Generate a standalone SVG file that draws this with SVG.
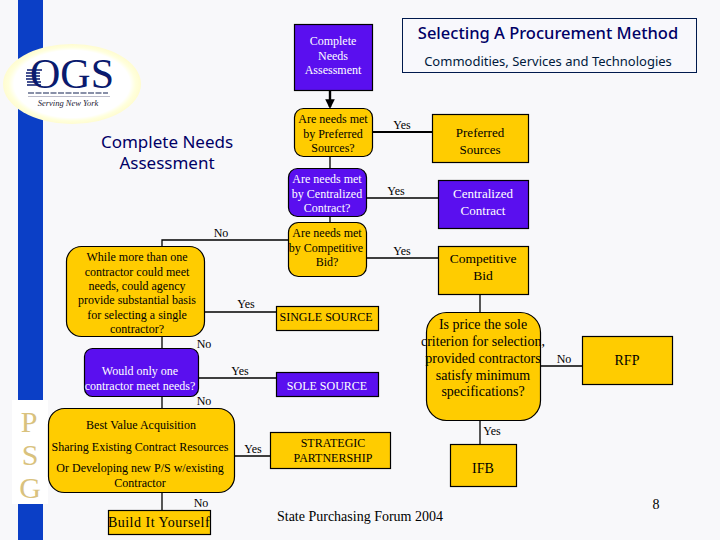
<svg xmlns="http://www.w3.org/2000/svg" width="720" height="540" viewBox="0 0 720 540">
<style>
text{font-family:"Liberation Serif","Times New Roman",serif;font-size:12px;fill:#000;text-anchor:middle}
.y{fill:#FFCC00;stroke:#000;stroke-width:1.2}
.p{fill:#5A0FEF;stroke:#000;stroke-width:1.2}
.w text{fill:#fff}
.c{fill:none;stroke:#000;stroke-width:1.3}
.t{font-family:"Noto Sans","Liberation Sans",Arial,sans-serif;fill:#000066}
.b{font-size:14px}
.g{font-size:30px;fill:#D9C27E}
</style>
<defs><marker id="a" markerWidth="4" markerHeight="4" refX="3.200" refY="2" orient="auto"><path d="M0 0L4 2L0 4Z" fill="#000"/></marker>
<radialGradient id="g"><stop offset=".84" stop-color="#fff"/><stop offset=".92" stop-color="#FFFFDC"/><stop offset="1" stop-color="#FFFCD0"/></radialGradient></defs>
<rect width="720" height="540" fill="#F8F8FA"/>
<rect x="18" y="0" width="25" height="540" fill="#0B3FC6"/>
<g id="logo"><ellipse cx="72" cy="84" rx="69" ry="40" fill="url(#g)"/>
<text x="72" y="88" style="font-size:42px;fill:#0A1A6E">OGS</text>
<path d="M27 70H42M26 73H40M26 76H40M26 79H40M27 82H41M27 85H41" stroke="#0A1A6E" stroke-width="1.500"/>
<path d="M28 93H108" stroke="#8890A8" stroke-width="2" stroke-dasharray="6 1.500"/>
<path d="M28 96.500H110" stroke="#AAB" stroke-width=".8"/>
<text x="68" y="106" style="font-size:8.500px;font-style:italic;fill:#223">Serving New York</text></g>
<g id="psg"><rect x="12" y="400" width="36" height="104" fill="#fff"/>
<text class="g" x="29" y="432">P</text>
<text class="g" x="30" y="465">S</text>
<text class="g" x="30" y="498">G</text></g>
<g id="connectors">
<path class="c" style="stroke-width:2.400" d="M330 90V107" marker-end="url(#a)"/>
<path class="c" d="M330 156V168M330 217V222M480 294V312M480 420V444M540 366H582M162 336V348M162 396V408M162 492V510M234 456H270M198 378H276M204 312H276M162 246V240H288M366 198H438M366 258H438"/>
<path class="c" style="stroke-width:2" d="M372 132H432"/>
</g>
<g id="title"><rect x="402.500" y="18.500" width="294" height="54" fill="#F8F8FC" stroke="#001a4d"/>
<text class="t" x="548" y="39" style="font-size:16.500px;font-weight:500">Selecting A Procurement Method</text>
<text class="t" x="548" y="66" style="font-size:13px;fill:#001a3d">Commodities, Services and Technologies</text></g>
<text class="t" x="167" y="148" style="font-size:17px">Complete Needs</text>
<text class="t" x="167" y="169" style="font-size:17px">Assessment</text>
<g id="n-complete" class="w"><rect class="p" x="294.500" y="24.500" width="78" height="66"/><text x="333" y="45">Complete</text><text x="333" y="60">Needs</text><text x="333" y="74">Assessment</text></g>
<g id="n-preferred-q"><rect class="y" x="294.500" y="108.500" width="78" height="48" rx="9"/><text x="333" y="123">Are needs met</text><text x="333" y="138">by Preferred</text><text x="333" y="152">Sources?</text></g>
<g id="n-preferred"><rect class="y" x="432.500" y="114.500" width="96" height="48"/><text x="480" y="137" style="font-size:13px">Preferred</text><text x="480" y="154" style="font-size:13px">Sources</text></g>
<g id="n-central-q" class="w"><rect class="p" x="288.500" y="168.500" width="78" height="48" rx="9"/><text x="327" y="183">Are needs met</text><text x="327" y="198">by Centralized</text><text x="327" y="212">Contract?</text></g>
<g id="n-central" class="w"><rect class="p" x="438.500" y="180.500" width="90" height="48"/><text x="483" y="198" style="font-size:13px">Centralized</text><text x="483" y="215" style="font-size:13px">Contract</text></g>
<g id="n-comp-q"><rect class="y" x="288.500" y="222.500" width="78" height="54" rx="10"/><text x="327" y="237">Are needs met</text><text x="326" y="252">by Competitive</text><text x="327" y="266">Bid?</text></g>
<g id="n-comp"><rect class="y" x="438.500" y="246.500" width="90" height="48"/><text x="483" y="263" style="font-size:13.500px">Competitive</text><text x="483" y="280" style="font-size:13.500px">Bid</text></g>
<g id="n-single"><rect class="y" x="276.500" y="306.500" width="102" height="24"/><text x="326" y="321">SINGLE SOURCE</text></g>
<g id="n-sole" class="w"><rect class="p" x="276.500" y="372.500" width="102" height="24"/><text x="327" y="390">SOLE SOURCE</text></g>
<g id="n-strategic"><rect class="y" x="270.500" y="432.500" width="120" height="36"/><text x="333" y="447">STRATEGIC</text><text x="333" y="462">PARTNERSHIP</text></g>
<g id="n-price"><rect class="y" x="426.500" y="312.500" width="114" height="108" rx="20"/><text class="b" x="483" y="329">Is price the sole</text><text class="b" x="483" y="346">criterion for selection,</text><text class="b" x="483" y="363">provided contractors</text><text class="b" x="483" y="380">satisfy minimum</text><text class="b" x="483" y="396">specifications?</text></g>
<g id="n-rfp"><rect class="y" x="582.500" y="336.500" width="90" height="48"/><text class="b" x="627" y="365">RFP</text></g>
<g id="n-ifb"><rect class="y" x="450.500" y="444.500" width="66" height="42"/><text class="b" x="483" y="473">IFB</text></g>
<g id="n-while"><rect class="y" x="66.500" y="246.500" width="138" height="90" rx="15"/><text x="137" y="261">While more than one</text><text x="137" y="276">contractor could meet</text><text x="137" y="290">needs, could agency</text><text x="137" y="304">provide substantial basis</text><text x="137" y="319">for selecting a single</text><text x="137" y="333">contractor?</text></g>
<g id="n-would" class="w"><rect class="p" x="84.500" y="348.500" width="114" height="48" rx="8"/><text x="140" y="375">Would only one</text><text x="140" y="390">contractor meet needs?</text></g>
<g id="n-best"><rect class="y" x="48.500" y="408.500" width="186" height="84" rx="16"/><text x="141" y="429">Best Value Acquisition</text><text x="140" y="451">Sharing Existing Contract Resources</text><text x="140" y="472">Or Developing new P/S w/existing</text><text x="140" y="487">Contractor</text></g>
<g id="n-build"><rect class="y" x="108.500" y="510.500" width="102" height="24"/><text x="159" y="527" style="font-size:14px;letter-spacing:.5px">Build It Yourself</text></g>
<g id="labels">
<text x="402" y="129">Yes</text><text x="396" y="195">Yes</text><text x="402" y="255">Yes</text><text x="221" y="237">No</text><text x="246" y="308">Yes</text><text x="204" y="348">No</text><text x="240" y="375">Yes</text><text x="204" y="405">No</text><text x="253" y="453">Yes</text><text x="201" y="507">No</text><text x="492" y="435">Yes</text><text x="564" y="363">No</text>
<text x="360" y="521" style="font-size:14px">State Purchasing Forum 2004</text><text x="656" y="509" style="font-size:14px">8</text></g>
</svg>
